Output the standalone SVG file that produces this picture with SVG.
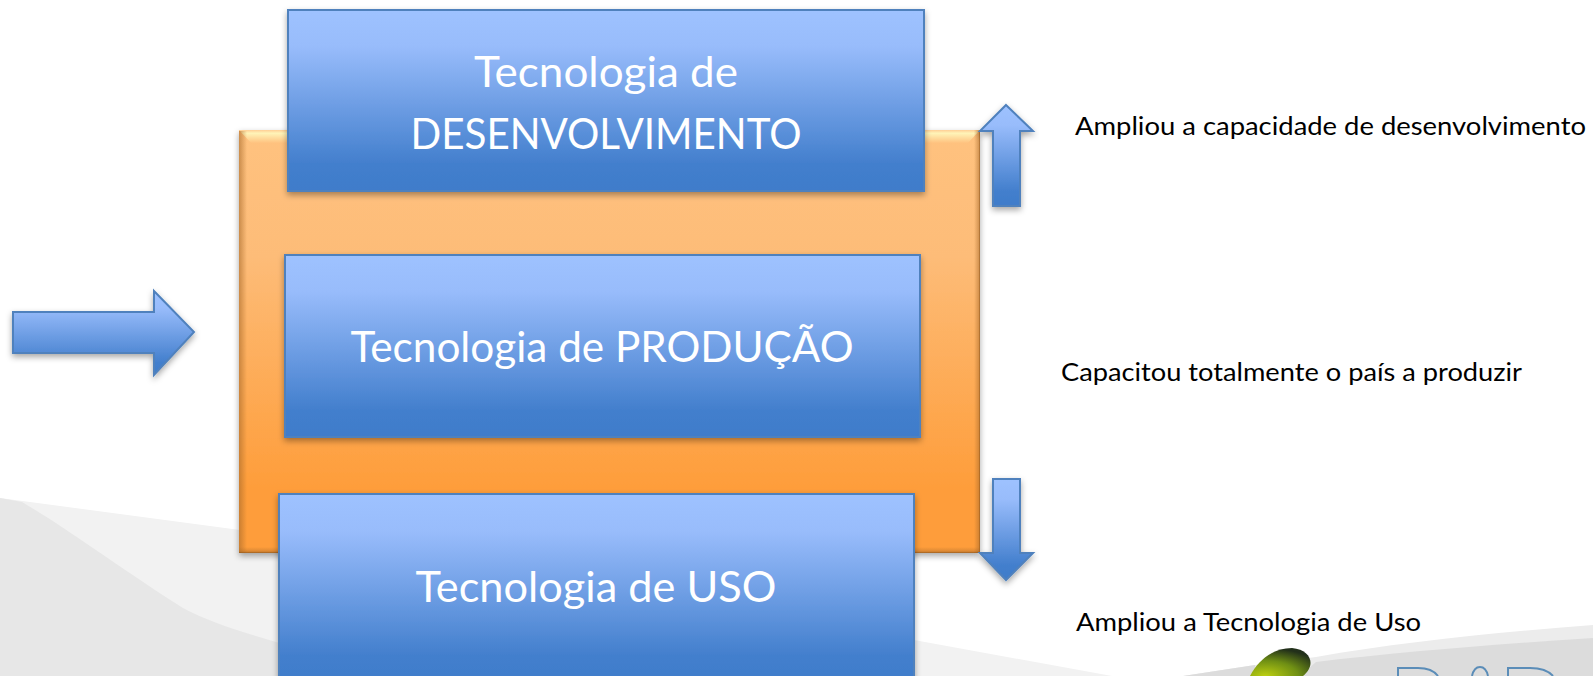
<svg xmlns="http://www.w3.org/2000/svg" width="1593" height="676" viewBox="0 0 1593 676">
<defs>
<linearGradient id="blue" x1="0" y1="0" x2="0" y2="1"><stop offset="0" stop-color="#9ec2ff"/><stop offset="0.2" stop-color="#98bcfb"/><stop offset="0.85" stop-color="#437fcd"/><stop offset="1" stop-color="#3f7cca"/></linearGradient>
<linearGradient id="orange" x1="0" y1="0" x2="0" y2="1"><stop offset="0" stop-color="#ffc27f"/><stop offset="0.3" stop-color="#fdbc78"/><stop offset="0.85" stop-color="#fe9d3a"/><stop offset="1" stop-color="#fe9d3a"/></linearGradient>
<linearGradient id="glow" x1="0" y1="0" x2="0" y2="1"><stop offset="0" stop-color="#ffcf95"/><stop offset="0.25" stop-color="#fff4b8"/><stop offset="1" stop-color="#ffc27f"/></linearGradient>
<linearGradient id="edgeL" x1="0" y1="0" x2="1" y2="0"><stop offset="0" stop-color="#a86a2a" stop-opacity="0.6"/><stop offset="1" stop-color="#a86a2a" stop-opacity="0"/></linearGradient>
<linearGradient id="edgeR" x1="1" y1="0" x2="0" y2="0"><stop offset="0" stop-color="#8a5218" stop-opacity="0.85"/><stop offset="0.25" stop-color="#a86a2a" stop-opacity="0.45"/><stop offset="1" stop-color="#a86a2a" stop-opacity="0"/></linearGradient>
<linearGradient id="edgeB" x1="0" y1="1" x2="0" y2="0"><stop offset="0" stop-color="#8a5218" stop-opacity="0.85"/><stop offset="0.3" stop-color="#a86a2a" stop-opacity="0.4"/><stop offset="1" stop-color="#a86a2a" stop-opacity="0"/></linearGradient>
<filter id="sh" x="-10%" y="-10%" width="120%" height="125%"><feDropShadow dx="0" dy="3" stdDeviation="3" flood-color="#000" flood-opacity="0.35"/></filter>
<radialGradient id="leaf" cx="0.25" cy="1" r="1"><stop offset="0" stop-color="#bccf10"/><stop offset="0.55" stop-color="#6f8f14"/><stop offset="1" stop-color="#22301a"/></radialGradient>
</defs>
<style>
.b{fill:url(#blue);stroke:#4f81bd;stroke-width:2;filter:url(#sh)}
.t{font-family:Lato,"Liberation Sans",sans-serif;font-size:43px;fill:#fff;text-anchor:middle}
.c{font-family:Lato,"Liberation Sans",sans-serif;font-size:25px;fill:#000}
</style>
<rect width="1593" height="676" fill="#fff"/>
<g id="background">
<path d="M0 498 L240 530 L914 640 L1112 676 H0Z" fill="#f2f2f2"/>
<path d="M0 498 L22 502 C70 530 130 575 183 608 C220 628 270 640 340 660 L400 676 H0Z" fill="#e7e7e7"/>
<path d="M1183 676 L1255 665 L1316 657 C1400 642 1500 632 1593 625 V676Z" fill="#ececec"/>
<path d="M1316 662 C1400 652 1500 644 1593 638 V676 H1300Z" fill="#dcdcdc"/>
<path d="M1183 676 L1255 665 V676Z" fill="#dcdcdc"/>
</g>
<g id="caixa-central">
<rect x="239" y="130" width="741" height="423" fill="url(#orange)" filter="url(#sh)"/>
<path d="M239 130H980L968 143H251Z" fill="url(#glow)"/>
<rect x="239" y="131" width="8" height="422" fill="url(#edgeL)"/>
<rect x="974" y="130" width="6" height="423" fill="url(#edgeR)"/>
<rect x="239" y="547" width="741" height="6" fill="url(#edgeB)"/>
</g>
<g id="tecnologia-desenvolvimento">
<rect class="b" x="288" y="10" width="636" height="181"/>
<text class="t" x="606" y="87" textLength="264" lengthAdjust="spacingAndGlyphs">Tecnologia de</text>
<text class="t" x="606" y="149" textLength="391" lengthAdjust="spacingAndGlyphs">DESENVOLVIMENTO</text>
</g>
<g id="tecnologia-producao">
<rect class="b" x="285" y="255" width="635" height="182"/>
<text class="t" x="602" y="362" textLength="503" lengthAdjust="spacingAndGlyphs">Tecnologia de PRODUÇÃO</text>
</g>
<g id="tecnologia-uso">
<rect class="b" x="279" y="494" width="635" height="190"/>
<text class="t" x="596" y="602" textLength="361" lengthAdjust="spacingAndGlyphs">Tecnologia de USO</text>
</g>
<g id="connectors">
<path class="b" d="M13 312H154V291L194 332L154 375V353H13Z"/>
<path class="b" d="M1006 105L1033 131H1020V206H993V131H980Z"/>
<path class="b" d="M993 479H1020V553H1033L1006 580L980 553H993Z"/>
</g>
<g id="rotulos">
<text class="c" x="1075" y="135" textLength="511" lengthAdjust="spacingAndGlyphs">Ampliou a capacidade de desenvolvimento</text>
<text class="c" x="1061" y="381" textLength="461" lengthAdjust="spacingAndGlyphs">Capacitou totalmente o país a produzir</text>
<text class="c" x="1076" y="631" textLength="345" lengthAdjust="spacingAndGlyphs">Ampliou a Tecnologia de Uso</text>
</g>
<g id="logo">
<path d="M1250 676C1258 660 1273 648 1292 648C1312 650 1316 666 1303 676Z" fill="url(#leaf)"/>
<path d="M1398 676V668H1418Q1432 668 1438 676M1472 676Q1474 667 1480 667Q1486 667 1488 676M1508 676V668H1530Q1546 668 1553 676" fill="none" stroke="#5b8db8" stroke-width="2"/>
</g>
</svg>
